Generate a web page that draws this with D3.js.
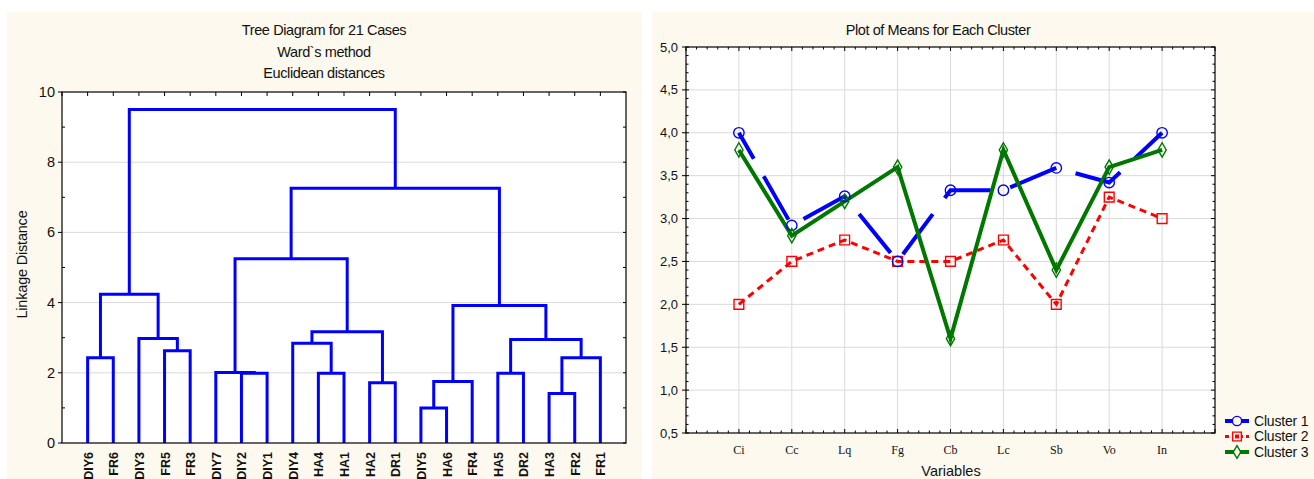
<!DOCTYPE html>
<html>
<head>
<meta charset="utf-8">
<script src="https://cdn.jsdelivr.net/npm/d3@7"></script>
<style>
  body { margin: 0; background: #fff; }
  text { font-family: "Liberation Sans", Arial, sans-serif; fill: #111; }
</style>
</head>
<body>
<div id="chart"></div>
<script>
// ---- dendrogram data ----
const leaves = ['DIY6', 'FR6', 'DIY3', 'FR5', 'FR3', 'DIY7', 'DIY2', 'DIY1', 'DIY4', 'HA4', 'HA1',
  'HA2', 'DR1', 'DIY5', 'HA6', 'FR4', 'HA5', 'DR2', 'HA3', 'FR2', 'FR1'];
// each merge: [left, right, linkage distance]; numbers refer to earlier merges
const merges = [
  ['DIY6', 'FR6', 2.43],
  ['FR5', 'FR3', 2.63],
  ['DIY3', 1, 2.98],
  [0, 2, 4.24],
  ['DIY2', 'DIY1', 1.99],
  ['DIY7', 4, 2.01],
  ['HA4', 'HA1', 1.99],
  ['DIY4', 6, 2.84],
  ['HA2', 'DR1', 1.72],
  [7, 8, 3.17],
  [5, 9, 5.25],
  ['DIY5', 'HA6', 1.0],
  [11, 'FR4', 1.75],
  ['HA5', 'DR2', 1.99],
  ['HA3', 'FR2', 1.41],
  [14, 'FR1', 2.43],
  [13, 15, 2.95],
  [12, 16, 3.92],
  [10, 17, 7.26],
  [3, 18, 9.5]
];
const treeTicks = [0, 2, 4, 6, 8, 10];

// ---- cluster means data ----
const variables = ['Ci', 'Cc', 'Lq', 'Fg', 'Cb', 'Lc', 'Sb', 'Vo', 'In'];
const cluster1 = [4.0, 2.92, 3.26, 2.5, 3.33, 3.33, 3.59, 3.42, 4.0];
const cluster2 = [2.0, 2.5, 2.75, 2.5, 2.5, 2.75, 2.0, 3.25, 3.0];
const cluster3 = [3.8, 2.8, 3.2, 3.6, 1.6, 3.8, 2.4, 3.6, 3.8];
const meanTicks = [0.5, 1.0, 1.5, 2.0, 2.5, 3.0, 3.5, 4.0, 4.5, 5.0];

const W = 1314, H = 479;
const panelFill = '#fdf9ee';
const gridColor = '#dadada';

const svg = d3.select('#chart').append('svg')
  .attr('width', W).attr('height', H)
  .style('display', 'block');

svg.append('rect').attr('x', 7).attr('y', 12).attr('width', 635).attr('height', H - 12).attr('fill', panelFill);
svg.append('rect').attr('x', 652).attr('y', 12).attr('width', W - 652).attr('height', H - 12).attr('fill', panelFill);

// ================= Left: tree diagram =================
(function () {
  const L = 62, R = 626, T = 92, B = 443;
  const x = d3.scalePoint().domain(leaves).range([L, R]).padding(1);
  const y = d3.scaleLinear().domain([0, 10]).range([B, T]);
  const g = svg.append('g');

  g.append('rect').attr('x', L).attr('y', T).attr('width', R - L).attr('height', B - T).attr('fill', '#fff');

  // grid
  g.selectAll('.grid').data(treeTicks.filter(d => d > 0 && d < 10)).join('line')
    .attr('x1', L).attr('x2', R).attr('y1', d => y(d)).attr('y2', d => y(d))
    .attr('stroke', gridColor).attr('stroke-width', 1);

  // axis ticks
  const minor = d3.range(1, 10, 2);
  g.selectAll('.tl').data(treeTicks).join('line')
    .attr('x1', L - 4).attr('x2', L).attr('y1', d => y(d)).attr('y2', d => y(d)).attr('stroke', '#000');
  g.selectAll('.tm').data(minor).join('line')
    .attr('x1', L).attr('x2', L + 3).attr('y1', d => y(d)).attr('y2', d => y(d)).attr('stroke', '#000');
  g.selectAll('.tr').data(treeTicks.concat(minor)).join('line')
    .attr('x1', R - 3).attr('x2', R).attr('y1', d => y(d)).attr('y2', d => y(d)).attr('stroke', '#000');
  const topTicks = [L].concat(leaves.map(d => x(d)));
  g.selectAll('.tt').data(topTicks).join('line')
    .attr('x1', d => d).attr('x2', d => d).attr('y1', T).attr('y2', T + 4).attr('stroke', '#000');

  g.selectAll('.yl').data(treeTicks).join('text')
    .attr('x', L - 7).attr('y', d => y(d)).attr('dy', '0.35em')
    .attr('text-anchor', 'end').attr('font-size', 14.5).text(d => d);

  g.append('text').attr('transform', `translate(27,${(T + B) / 2 - 3}) rotate(-90)`)
    .attr('text-anchor', 'middle').attr('font-size', 14.5).attr('letter-spacing', -0.2).text('Linkage Distance');

  // dendrogram
  const nodes = [];
  const pos = k => (typeof k === 'number' ? nodes[k] : { x: x(k), h: 0 });
  merges.forEach(([a, b, h]) => {
    const pa = pos(a), pb = pos(b);
    g.append('path')
      .attr('d', `M${pa.x},${y(pa.h)}V${y(h)}H${pb.x}V${y(pb.h)}`)
      .attr('fill', 'none').attr('stroke', '#0000ff').attr('stroke-width', 3)
      .attr('stroke-linejoin', 'miter');
    nodes.push({ x: (pa.x + pb.x) / 2, h: h });
  });

  g.append('rect').attr('x', L).attr('y', T).attr('width', R - L).attr('height', B - T)
    .attr('fill', 'none').attr('stroke', '#000').attr('stroke-width', 1.2);

  g.selectAll('.lab').data(leaves).join('text')
    .attr('transform', d => `translate(${x(d) + 5},452) rotate(-90)`)
    .attr('text-anchor', 'end').attr('font-size', 12.5).attr('font-weight', 'bold').text(d => d);

  const titles = ['Tree Diagram for 21 Cases', 'Ward`s method', 'Euclidean distances'];
  g.selectAll('.ttl').data(titles).join('text')
    .attr('x', 324).attr('y', (d, i) => 35 + i * 21.5).attr('text-anchor', 'middle')
    .attr('font-size', 14.5).attr('letter-spacing', -0.4).text(d => d);
})();

// ================= Right: plot of means =================
(function () {
  const L = 686, R = 1215, T = 47, B = 433;
  const x = d3.scalePoint().domain(variables).range([L, R]).padding(1);
  const y = d3.scaleLinear().domain([0.5, 5.0]).range([B, T]);
  const g = svg.append('g');
  const step = x.step();

  g.append('rect').attr('x', L).attr('y', T).attr('width', R - L).attr('height', B - T).attr('fill', '#fff');

  g.selectAll('.gh').data(meanTicks.slice(1, -1)).join('line')
    .attr('x1', L).attr('x2', R).attr('y1', d => y(d)).attr('y2', d => y(d))
    .attr('stroke', gridColor);
  g.selectAll('.gv').data(variables).join('line')
    .attr('x1', d => x(d)).attr('x2', d => x(d)).attr('y1', T).attr('y2', B)
    .attr('stroke', gridColor);

  // ticks
  const minorY = d3.range(5, 50).map(d => d / 10).filter(d => Math.abs(d * 2 - Math.round(d * 2)) > 1e-6);
  g.selectAll('.tl').data(meanTicks).join('line')
    .attr('x1', L - 4).attr('x2', L + 3).attr('y1', d => y(d)).attr('y2', d => y(d)).attr('stroke', '#000');
  g.selectAll('.tlm').data(minorY).join('line')
    .attr('x1', L).attr('x2', L + 2.5).attr('y1', d => y(d)).attr('y2', d => y(d)).attr('stroke', '#000');
  g.selectAll('.tr').data(meanTicks).join('line')
    .attr('x1', R - 4).attr('x2', R).attr('y1', d => y(d)).attr('y2', d => y(d)).attr('stroke', '#000');
  g.selectAll('.trm').data(minorY).join('line')
    .attr('x1', R - 2.5).attr('x2', R).attr('y1', d => y(d)).attr('y2', d => y(d)).attr('stroke', '#000');
  const minorX = d3.range(0, 51).map(i => L + i * step / 5);
  g.selectAll('.tx').data(minorX).join('line')
    .attr('x1', d => d).attr('x2', d => d).attr('y1', T).attr('y2', (d, i) => T + (i % 5 === 0 ? 4 : 2.5)).attr('stroke', '#000');
  g.selectAll('.bx').data(minorX).join('line')
    .attr('x1', d => d).attr('x2', d => d).attr('y1', B).attr('y2', (d, i) => B - (i % 5 === 0 ? 4 : 2.5)).attr('stroke', '#000');

  g.selectAll('.yl').data(meanTicks).join('text')
    .attr('x', L - 8).attr('y', d => y(d)).attr('dy', '0.35em').attr('text-anchor', 'end')
    .attr('font-size', 13).text(d => d.toFixed(1).replace('.', ','));

  g.selectAll('.xl').data(variables).join('text')
    .attr('x', d => x(d)).attr('y', 454).attr('text-anchor', 'middle')
    .style('font-family', '"Liberation Serif", "Times New Roman", serif')
    .attr('font-size', 12).text(d => d);

  g.append('text').attr('x', 951).attr('y', 476).attr('text-anchor', 'middle')
    .attr('font-size', 14.5).text('Variables');
  g.append('text').attr('x', 938).attr('y', 35).attr('text-anchor', 'middle')
    .attr('font-size', 14.5).attr('letter-spacing', -0.4).text('Plot of Means for Each Cluster');

  const line = d3.line().x((d, i) => x(variables[i])).y(d => y(d));

  const series = [
    { name: 'Cluster  1', values: cluster1, color: '#0000ff', width: 4, dash: '50,20', offset: 20, marker: 'circle' },
    { name: 'Cluster  2', values: cluster2, color: '#ff0000', width: 3, dash: '7,5', offset: 0, marker: 'square' },
    { name: 'Cluster  3', values: cluster3, color: '#007800', width: 4, dash: null, offset: 0, marker: 'diamond' }
  ];
  const symbols = { circle: d3.symbolCircle, square: d3.symbolSquare, diamond: d3.symbolDiamond };
  const sizes = { circle: 85, square: 95, diamond: 60 };

  const drawOrder = [series[1], series[0], series[2]];
  drawOrder.forEach(s => {
    g.append('path').datum(s.values).attr('d', line)
      .attr('fill', 'none').attr('stroke', s.color).attr('stroke-width', s.width)
      .attr('stroke-dasharray', s.dash).attr('stroke-dashoffset', s.offset);
  });
  drawOrder.forEach(s => {
    g.selectAll(null).data(s.values).join('path')
      .attr('transform', (d, i) => `translate(${x(variables[i])},${y(d)})`)
      .attr('d', d3.symbol().type(symbols[s.marker]).size(sizes[s.marker]))
      .attr('fill', 'none').attr('stroke', s.color).attr('stroke-width', 1.4);
  });

  g.append('rect').attr('x', L).attr('y', T).attr('width', R - L).attr('height', B - T)
    .attr('fill', 'none').attr('stroke', '#000').attr('stroke-width', 1.2);

  // legend
  const lg = g.append('g').attr('transform', 'translate(1225,421)');
  series.forEach((s, i) => {
    const row = lg.append('g').attr('transform', `translate(0,${i * 15.5})`);
    row.append('line').attr('x1', 0).attr('x2', 24).attr('y1', 0).attr('y2', 0)
      .attr('stroke', s.color).attr('stroke-width', s.width)
      .attr('stroke-dasharray', s.marker === 'square' ? '4,3' : null);
    row.append('path').attr('transform', 'translate(12,0)')
      .attr('d', d3.symbol().type(symbols[s.marker]).size(sizes[s.marker] * 0.8))
      .attr('fill', s.marker === 'square' ? '#fff' : panelFill).attr('stroke', s.color).attr('stroke-width', 1.4);
    if (s.marker === 'square') {
      row.append('rect').attr('x', 10).attr('y', -2).attr('width', 4).attr('height', 4).attr('fill', s.color);
    }
    row.append('text').attr('x', 29).attr('y', 0).attr('dy', '0.35em').attr('font-size', 14).attr('letter-spacing', -0.2).text(s.name);
  });
})();
</script>
</body>
</html>
